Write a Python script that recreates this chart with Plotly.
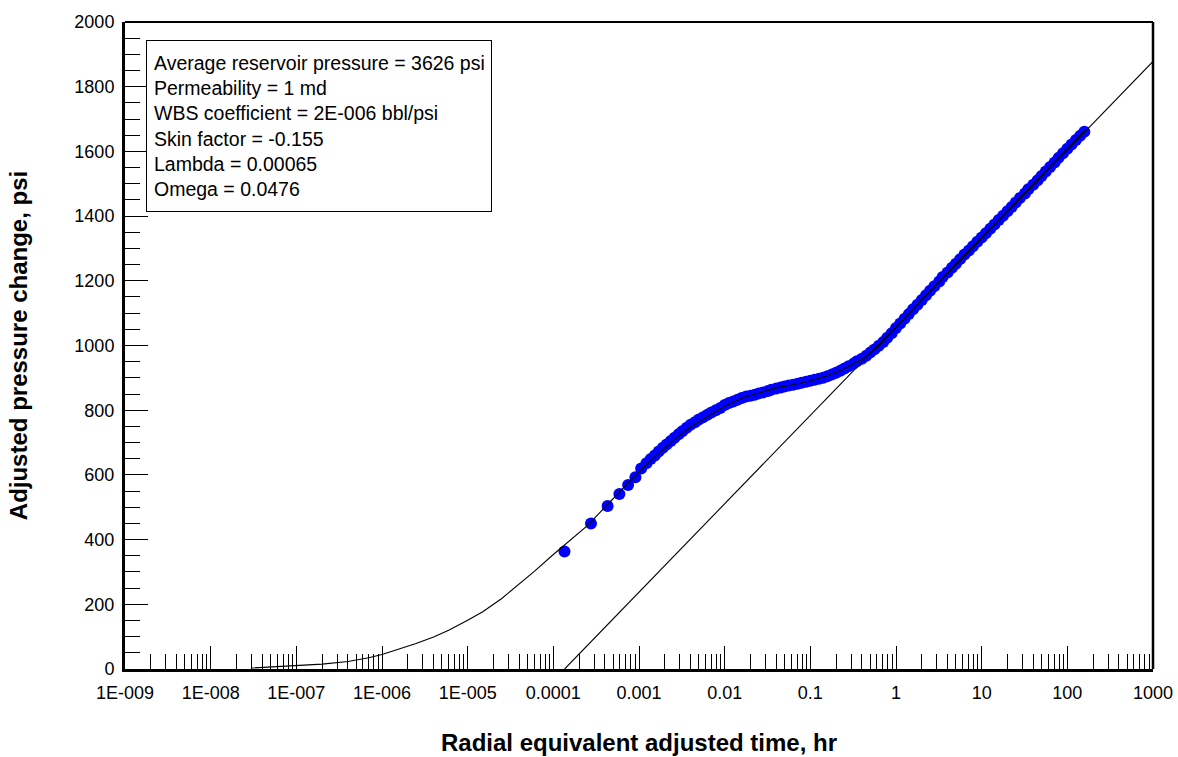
import plotly.graph_objects as go

# Measured data: radial equivalent adjusted time (hr) and adjusted pressure change (psi)
data_time = [
    1.35e-4, 2.75e-4, 4.3e-4, 5.9e-4, 7.46e-4, 9.08e-4,
    1.06e-3, 1.22e-3, 1.37e-3, 1.53e-3, 1.7e-3, 1.9e-3, 2.1e-3, 2.35e-3, 2.6e-3, 2.9e-3,
    3.2e-3, 3.6e-3, 4.0e-3, 4.5e-3, 5.0e-3, 5.6e-3, 6.3e-3, 7.0e-3, 7.9e-3, 8.9e-3,
    0.010, 0.0112, 0.0126, 0.0141, 0.0158, 0.0178, 0.020, 0.0224, 0.025, 0.028,
    0.032, 0.035, 0.040, 0.045, 0.050, 0.056, 0.063, 0.071, 0.079, 0.089,
    0.10, 0.112, 0.126, 0.141, 0.158, 0.178, 0.20, 0.224, 0.25, 0.28,
    0.32, 0.35, 0.40, 0.45, 0.50, 0.56, 0.63, 0.71, 0.79, 0.89,
    1.0, 1.12, 1.26, 1.41, 1.58, 1.78, 2.0, 2.24, 2.5, 2.8,
    3.2, 3.5, 4.0, 4.5, 5.0, 5.6, 6.3, 7.1, 7.9, 8.9,
    10, 11.2, 12.6, 14.1, 15.8, 17.8, 20, 22.4, 25, 28,
    32, 35, 40, 45, 50, 56, 63, 71, 79, 89,
    100, 112, 126, 141, 158,
]
data_dp = [
    363, 450, 504, 541, 569, 593,
    620, 636, 649, 660, 672, 684, 694, 705, 715, 726,
    735, 746, 755, 763, 771, 778, 786, 793, 800, 807,
    816, 822, 827, 832, 838, 842, 845, 848, 852, 855,
    859, 863, 867, 870, 873, 876, 879, 882, 885, 888,
    891, 894, 897, 900, 905, 910, 916, 922, 929, 936,
    944, 951, 959, 968, 978, 988, 999, 1011, 1024, 1038,
    1054, 1068, 1083, 1097, 1112, 1126, 1141, 1155, 1169, 1183,
    1198, 1212, 1226, 1240, 1253, 1267, 1281, 1294, 1307, 1321,
    1334, 1347, 1361, 1374, 1388, 1401, 1415, 1428, 1442, 1456,
    1470, 1483, 1497, 1511, 1524, 1538, 1552, 1566, 1580, 1594,
    1608, 1621, 1635, 1648, 1661,
]

# Dual-porosity model response
model_time = [
    3e-8, 5e-8, 1e-7, 2e-7, 4e-7, 7e-7, 1e-6, 1.5e-6, 2.5e-6, 4e-6, 6e-6,
    1e-5, 1.5e-5, 2.5e-5, 4e-5, 6e-5, 1e-4, 1.5e-4, 2.5e-4, 4e-4, 6e-4,
    1e-3, 1.6e-3, 2.5e-3, 4e-3, 6e-3, 0.01, 0.016, 0.025, 0.04, 0.06,
    0.1, 0.16, 0.25, 0.4, 0.6, 1, 1.6, 2.5, 4, 6,
    10, 16, 25, 40, 60, 100, 160,
]
model_dp = [
    3, 6, 10, 15, 23, 35, 45, 60, 79, 99, 120,
    151, 177, 218, 262, 302, 354, 394, 443, 500, 549,
    610, 660, 705, 748, 777, 812, 838, 852, 869, 878,
    890, 907, 928, 958, 993, 1056, 1115, 1169, 1226, 1274,
    1334, 1388, 1442, 1499, 1548, 1610, 1664,
]

# Semilog radial-flow straight line
radial_time = [1.355e-4, 1000]
radial_dp = [0, 1878]

# Axis tick labels
x_tick_vals = [1e-9, 1e-8, 1e-7, 1e-6, 1e-5, 1e-4, 1e-3, 1e-2, 1e-1, 1, 10, 100, 1000]
x_tick_text = ["1E-009", "1E-008", "1E-007", "1E-006", "1E-005", "0.0001",
               "0.001", "0.01", "0.1", "1", "10", "100", "1000"]

info_lines = [
    "Average reservoir pressure = 3626 psi",
    "Permeability = 1 md",
    "WBS coefficient = 2E-006 bbl/psi",
    "Skin factor = -0.155",
    "Lambda = 0.00065",
    "Omega = 0.0476",
]

FONT = "Liberation Sans, Arial, Helvetica, sans-serif"

# Minor ticks at 2..9 within each decade
x_minor_vals = []
for e in range(-9, 3):
    for m in range(2, 10):
        x_minor_vals.append(m * 10.0 ** e)

fig = go.Figure()

fig.add_trace(go.Scatter(
    x=data_time, y=data_dp, mode="markers",
    marker=dict(color="#0000ff", size=12, line=dict(width=0)),
    showlegend=False, hoverinfo="x+y",
))
fig.add_trace(go.Scatter(
    x=model_time, y=model_dp, mode="lines",
    line=dict(color="black", width=1.1),
    showlegend=False,
))
fig.add_trace(go.Scatter(
    x=radial_time, y=radial_dp, mode="lines",
    line=dict(color="black", width=1.1),
    showlegend=False,
))

axis_common = dict(
    showgrid=False, zeroline=False, automargin=False,
    showline=True, linecolor="black", linewidth=3,
    ticks="inside", ticklen=23, tickwidth=1.3, tickcolor="black",
    tickfont=dict(family=FONT, size=18, color="black"),
)

fig.update_xaxes(
    type="log", range=[-9, 3],
    tickmode="array", tickvals=x_tick_vals, ticktext=x_tick_text,
    minor=dict(tickmode="array", tickvals=x_minor_vals, ticks="inside",
               ticklen=15, tickwidth=1.3, tickcolor="black", showgrid=False),
    title=dict(text="<b>Radial equivalent adjusted time, hr</b>",
               font=dict(family=FONT, size=24, color="black"), standoff=33),
    ticklabelstandoff=5,
    **axis_common,
)
fig.update_yaxes(
    range=[0, 2000], tickmode="linear", tick0=0, dtick=200,
    minor=dict(dtick=50, ticks="inside", ticklen=15, tickwidth=1.3,
               tickcolor="black", showgrid=False),
    title=dict(text="<b>Adjusted pressure change, psi</b>",
               font=dict(family=FONT, size=24, color="black"), standoff=40),
    ticklabelstandoff=4,
    **axis_common,
)

# Thinner frame on the top and right sides
fig.add_shape(type="line", xref="paper", yref="paper", x0=0, x1=1, y0=1, y1=1,
              line=dict(color="black", width=2))
fig.add_shape(type="line", xref="paper", yref="paper", x0=1, x1=1, y0=0, y1=1,
              line=dict(color="black", width=2.5))

fig.add_annotation(
    xref="paper", yref="paper", x=0.0204, y=0.972,
    xanchor="left", yanchor="top",
    text="<br>".join(info_lines), showarrow=False, align="left",
    font=dict(family=FONT, size=19.5, color="black"),
    bordercolor="black", borderwidth=1, borderpad=7,
    bgcolor="white", width=330, height=156, valign="middle",
)

fig.update_layout(
    width=1178, height=757,
    margin=dict(l=125, r=25, t=22, b=88),
    paper_bgcolor="white", plot_bgcolor="white",
    font=dict(family=FONT, color="black"),
)

fig.write_html("out.html")
